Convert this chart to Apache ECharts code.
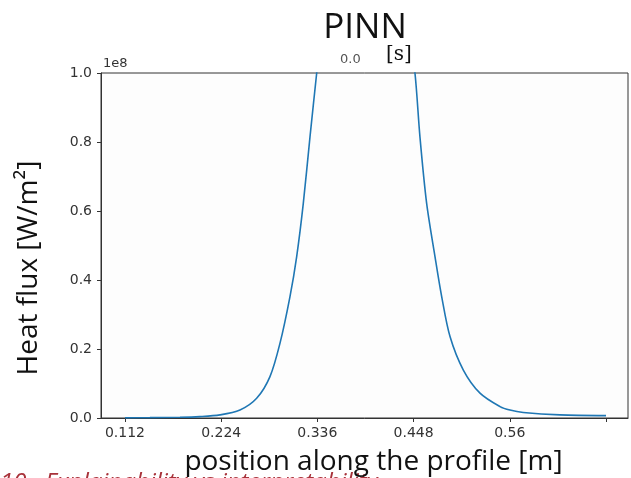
<!DOCTYPE html>
<html>
<head>
<meta charset="utf-8">
<script src="https://cdn.jsdelivr.net/npm/echarts@6/dist/echarts.min.js"></script>
<style>
  html, body { margin: 0; padding: 0; background: #fff; }
  #main { width: 631px; height: 478px; }
</style>
</head>
<body>
<div id="main"></div>
<script>
// position along the profile [m]
var positions = [0.112, 0.141, 0.176, 0.199, 0.2226, 0.2459, 0.2653, 0.2808, 0.2925, 0.3041,
  0.3119, 0.3196, 0.3274, 0.3352, 0.35, 0.37, 0.392, 0.415, 0.435, 0.4496,
  0.4554, 0.4632, 0.4729, 0.4807, 0.4904, 0.5059, 0.5253, 0.5486, 0.5602, 0.5757,
  0.6184, 0.672];
// heat flux, in units of 1e8 W/m2
var heatFlux = [0.0005, 0.001, 0.002, 0.004, 0.009, 0.023, 0.057, 0.12, 0.217, 0.352,
  0.468, 0.622, 0.815, 1.0, 1.35, 1.7, 1.85, 1.7, 1.3, 1.0,
  0.815, 0.622, 0.468, 0.352, 0.236, 0.139, 0.072, 0.033, 0.023, 0.016,
  0.009, 0.007];
var xTicks = [0.112, 0.224, 0.336, 0.448, 0.56, 0.672];
var xTickLabels = [0.112, 0.224, 0.336, 0.448, 0.56];

var seriesData = positions.map(function (p, i) { return [p, heatFlux[i]]; });

var chart = echarts.init(document.getElementById('main'));
var tickFont = 'DejaVu Sans';
var textFont = 'Open Sans';
var option = {
  backgroundColor: '#fff',
  animation: false,
  title: {
    text: 'PINN',
    left: 360,
    top: 6,
    textAlign: 'center',
    textStyle: { fontFamily: textFont, fontSize: 35, fontWeight: 'normal', color: '#111' }
  },
  grid: {
    left: 101, right: 3, top: 73, bottom: 60,
    outerBoundsMode: 'none',
    show: true, borderColor: '#333', borderWidth: 1, backgroundColor: '#fdfdfd'
  },
  xAxis: {
    type: 'value',
    min: 0.0841,
    max: 0.6976,
    name: 'position along the profile [m]',
    nameLocation: 'middle',
    nameGap: 30,
    nameTextStyle: { fontFamily: textFont, fontSize: 28, color: '#111', padding: [0, 0, 0, 18] },
    axisLine: { lineStyle: { color: '#333' } },
    axisTick: { customValues: xTicks, length: 4, lineStyle: { color: '#333' } },
    axisLabel: {
      customValues: xTickLabels, color: '#333', fontFamily: tickFont, fontSize: 14, margin: 8,
      formatter: function (v) { return String(v); }
    },
    splitLine: { show: false }
  },
  yAxis: {
    type: 'value',
    min: 0,
    max: 1,
    interval: 0.2,
    axisLine: { show: true, lineStyle: { color: '#333' } },
    axisTick: { show: true, length: 4, lineStyle: { color: '#333' } },
    axisLabel: {
      color: '#333', fontFamily: tickFont, fontSize: 14, margin: 9,
      formatter: function (v) { return v.toFixed(1); }
    },
    splitLine: { show: false }
  },
  graphic: [
    { type: 'text', left: 103, top: 57, style: { text: '1e8', fontFamily: tickFont, fontSize: 13, fill: '#333' } },
    { type: 'text', left: 340, top: 53, style: { text: '0.0', fontFamily: tickFont, fontSize: 13, fill: '#555' } },
    { type: 'text', left: 386, top: 45, style: { text: '[s]', fontFamily: 'DejaVu Serif', fontSize: 20, fill: '#111' } },
    {
      type: 'text', x: 29, y: 268, rotation: Math.PI / 2,
      style: { text: 'Heat flux [W/m²]', fontFamily: textFont, fontSize: 28, fill: '#111', align: 'center', verticalAlign: 'middle' }
    },
    {
      type: 'text', left: 0, top: 471, z: -1,
      style: { text: '10.  Explainability vs interpretability', fontFamily: textFont, fontStyle: 'italic', fontSize: 24, fill: '#a8323a' }
    }
  ],
  series: [{
    type: 'line',
    data: seriesData,
    showSymbol: false,
    smooth: 0.3,
    clip: true,
    lineStyle: { color: '#1f77b4', width: 1.6 },
    itemStyle: { color: '#1f77b4' }
  }]
};
chart.setOption(option);
</script>
</body>
</html>
